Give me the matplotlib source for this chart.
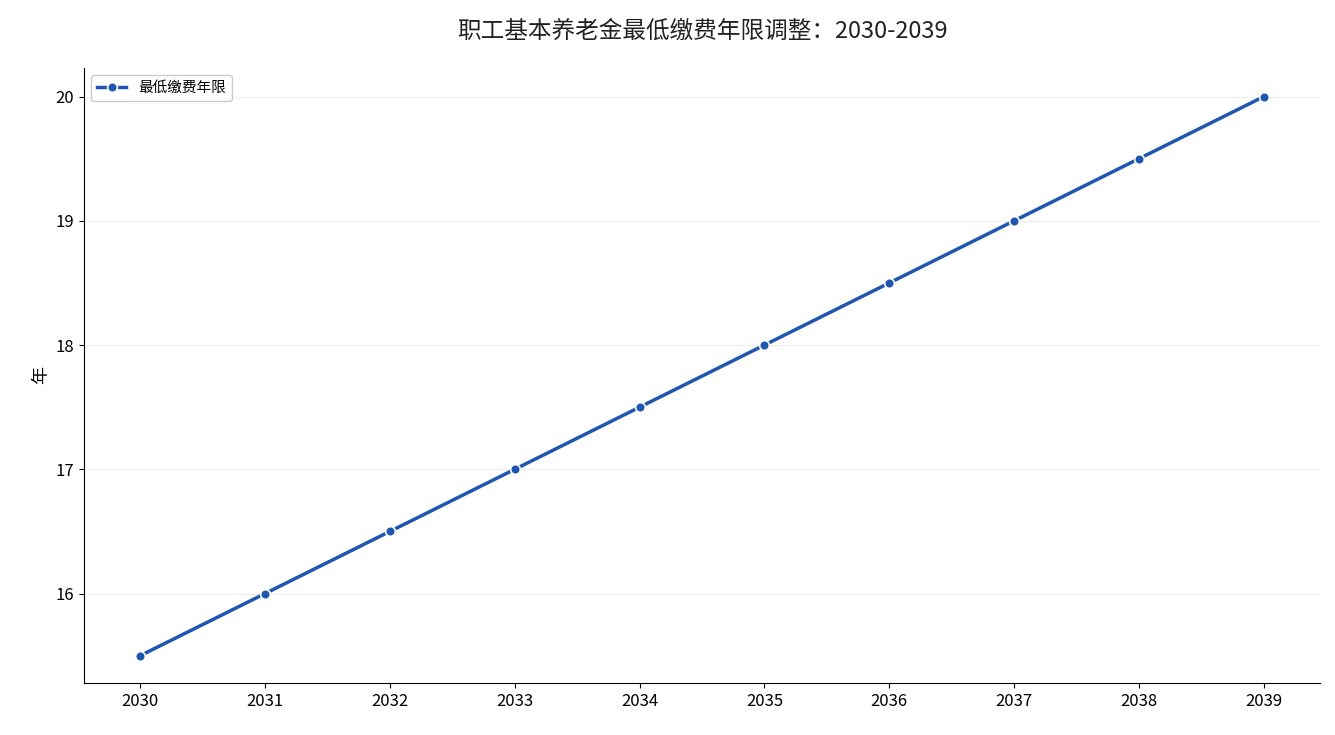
import matplotlib
matplotlib.use("Agg")
import matplotlib.pyplot as plt

plt.rcParams['font.family'] = ['Noto Sans CJK SC', 'DejaVu Sans']

years = [2030, 2031, 2032, 2033, 2034, 2035, 2036, 2037, 2038, 2039]
values = [15.5, 16.0, 16.5, 17.0, 17.5, 18.0, 18.5, 19.0, 19.5, 20.0]
series_name = "最低缴费年限"
title = "职工基本养老金最低缴费年限调整：2030-2039"

fig = plt.figure(figsize=(13.35, 7.35), dpi=100)
ax = fig.add_axes([84/1335, 1-683/735, (1320-84)/1335, (683-68)/735])
ax.plot(years, values, color='#1f57b0', lw=2.5, marker='o', ms=7,
        mec='white', mew=1.2, label=series_name)
ax.set_xticks(years)
ax.set_xticklabels([str(y) for y in years])
ax.set_yticks([16, 17, 18, 19, 20])
ax.set_ylim(15.28, 20.23)
ax.set_xlim(2029.55, 2039.45)
ax.tick_params(labelsize=12)
ax.set_ylabel("年", fontsize=13)
ax.set_title(title, fontsize=17, color='#222222', pad=22)
ax.grid(axis='y', color='#eeeeee', lw=0.8)
ax.set_axisbelow(True)
for s in ['top', 'right']:
    ax.spines[s].set_visible(False)
ax.legend(loc='upper left', fontsize=10.5, framealpha=1, edgecolor='#cccccc')
fig.savefig("out.png", dpi=100)
